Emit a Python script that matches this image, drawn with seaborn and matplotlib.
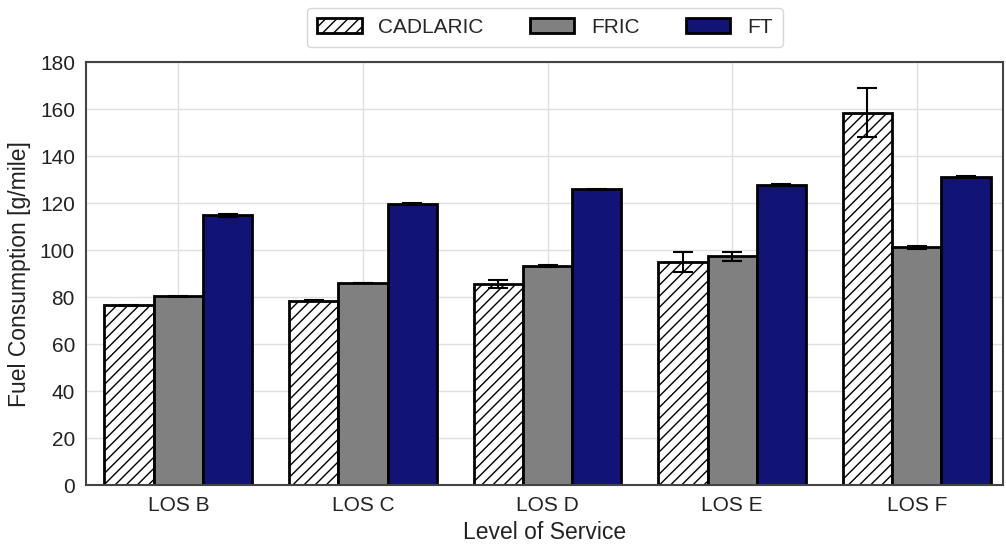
import matplotlib
matplotlib.use("Agg")
import matplotlib.pyplot as plt
import seaborn as sns
import pandas as pd
import numpy as np

categories = ["LOS B", "LOS C", "LOS D", "LOS E", "LOS F"]
methods = ["CADLARIC", "FRIC", "FT"]
cadlaric = [76.5, 78.5, 85.5, 95.0, 158.5]
cadlaric_err = [0.3, 0.3, 1.6, 4.2, 10.5]
fric = [80.4, 86.0, 93.3, 97.3, 101.2]
fric_err = [0.2, 0.2, 0.3, 2.0, 0.6]
ft = [114.8, 119.6, 125.8, 127.6, 131.0]
ft_err = [0.6, 0.3, 0.3, 0.5, 0.5]

sns.set_theme(style="whitegrid")
plt.rcParams["font.family"] = ["Liberation Sans", "DejaVu Sans"]
plt.rcParams["hatch.linewidth"] = 1.0

rows = []
for m, vals, errs in zip(methods, [cadlaric, fric, ft], [cadlaric_err, fric_err, ft_err]):
    for c, v, e in zip(categories, vals, errs):
        rows.append({"Level of Service": c, "Method": m, "Value": v, "Err": e})
df = pd.DataFrame(rows)

fig = plt.figure(figsize=(10.06, 5.45), dpi=100)
ax = fig.add_axes([0.0855, 0.110, 0.912, 0.776])

palette = {"CADLARIC": "white", "FRIC": "#808080", "FT": "#111377"}
sns.barplot(data=df, x="Level of Service", y="Value", hue="Method",
            hue_order=methods, order=categories, palette=palette,
            edgecolor="black", linewidth=2, errorbar=None, ax=ax,
            saturation=1, width=0.8)

for container, m in zip(ax.containers, methods):
    sub = df[df["Method"] == m].set_index("Level of Service").loc[categories]
    xs = []
    for bar in container:
        if m == "CADLARIC":
            bar.set_hatch("///")
        xs.append(bar.get_x() + bar.get_width() / 2)
    ax.errorbar(xs, sub["Value"].values, yerr=sub["Err"].values, fmt="none",
                ecolor="black", elinewidth=1.5, capsize=7.5, capthick=1.5, zorder=5)

ax.set_ylim(0, 180)
ax.set_yticks(np.arange(0, 181, 20))
ax.set_xlim(-0.5, 4.47)
ax.set_xlabel("Level of Service", fontsize=16.5, color="#222222", labelpad=4)
ax.set_ylabel("Fuel Consumption [g/mile]", fontsize=16.5, color="#222222", labelpad=6)
ax.tick_params(axis="both", labelsize=15, colors="#222222", length=0, pad=8)
ax.grid(True, color="#e0e0e0", linewidth=1)
for s in ax.spines.values():
    s.set_edgecolor("#444444")
    s.set_linewidth(1.5)
    s.set_visible(True)

handles, labels = ax.get_legend_handles_labels()
for h, l in zip(handles, labels):
    if l == "CADLARIC":
        h.set_hatch("///")
ax.legend(handles, labels, loc="lower center", bbox_to_anchor=(0.5, 1.01),
          ncol=3, fontsize=15, frameon=True, handlelength=2.15, handleheight=0.7,
          handletextpad=0.8, columnspacing=2.2, borderpad=0.5,
          edgecolor="#cccccc", fancybox=True)

fig.savefig("out.png", dpi=100)
